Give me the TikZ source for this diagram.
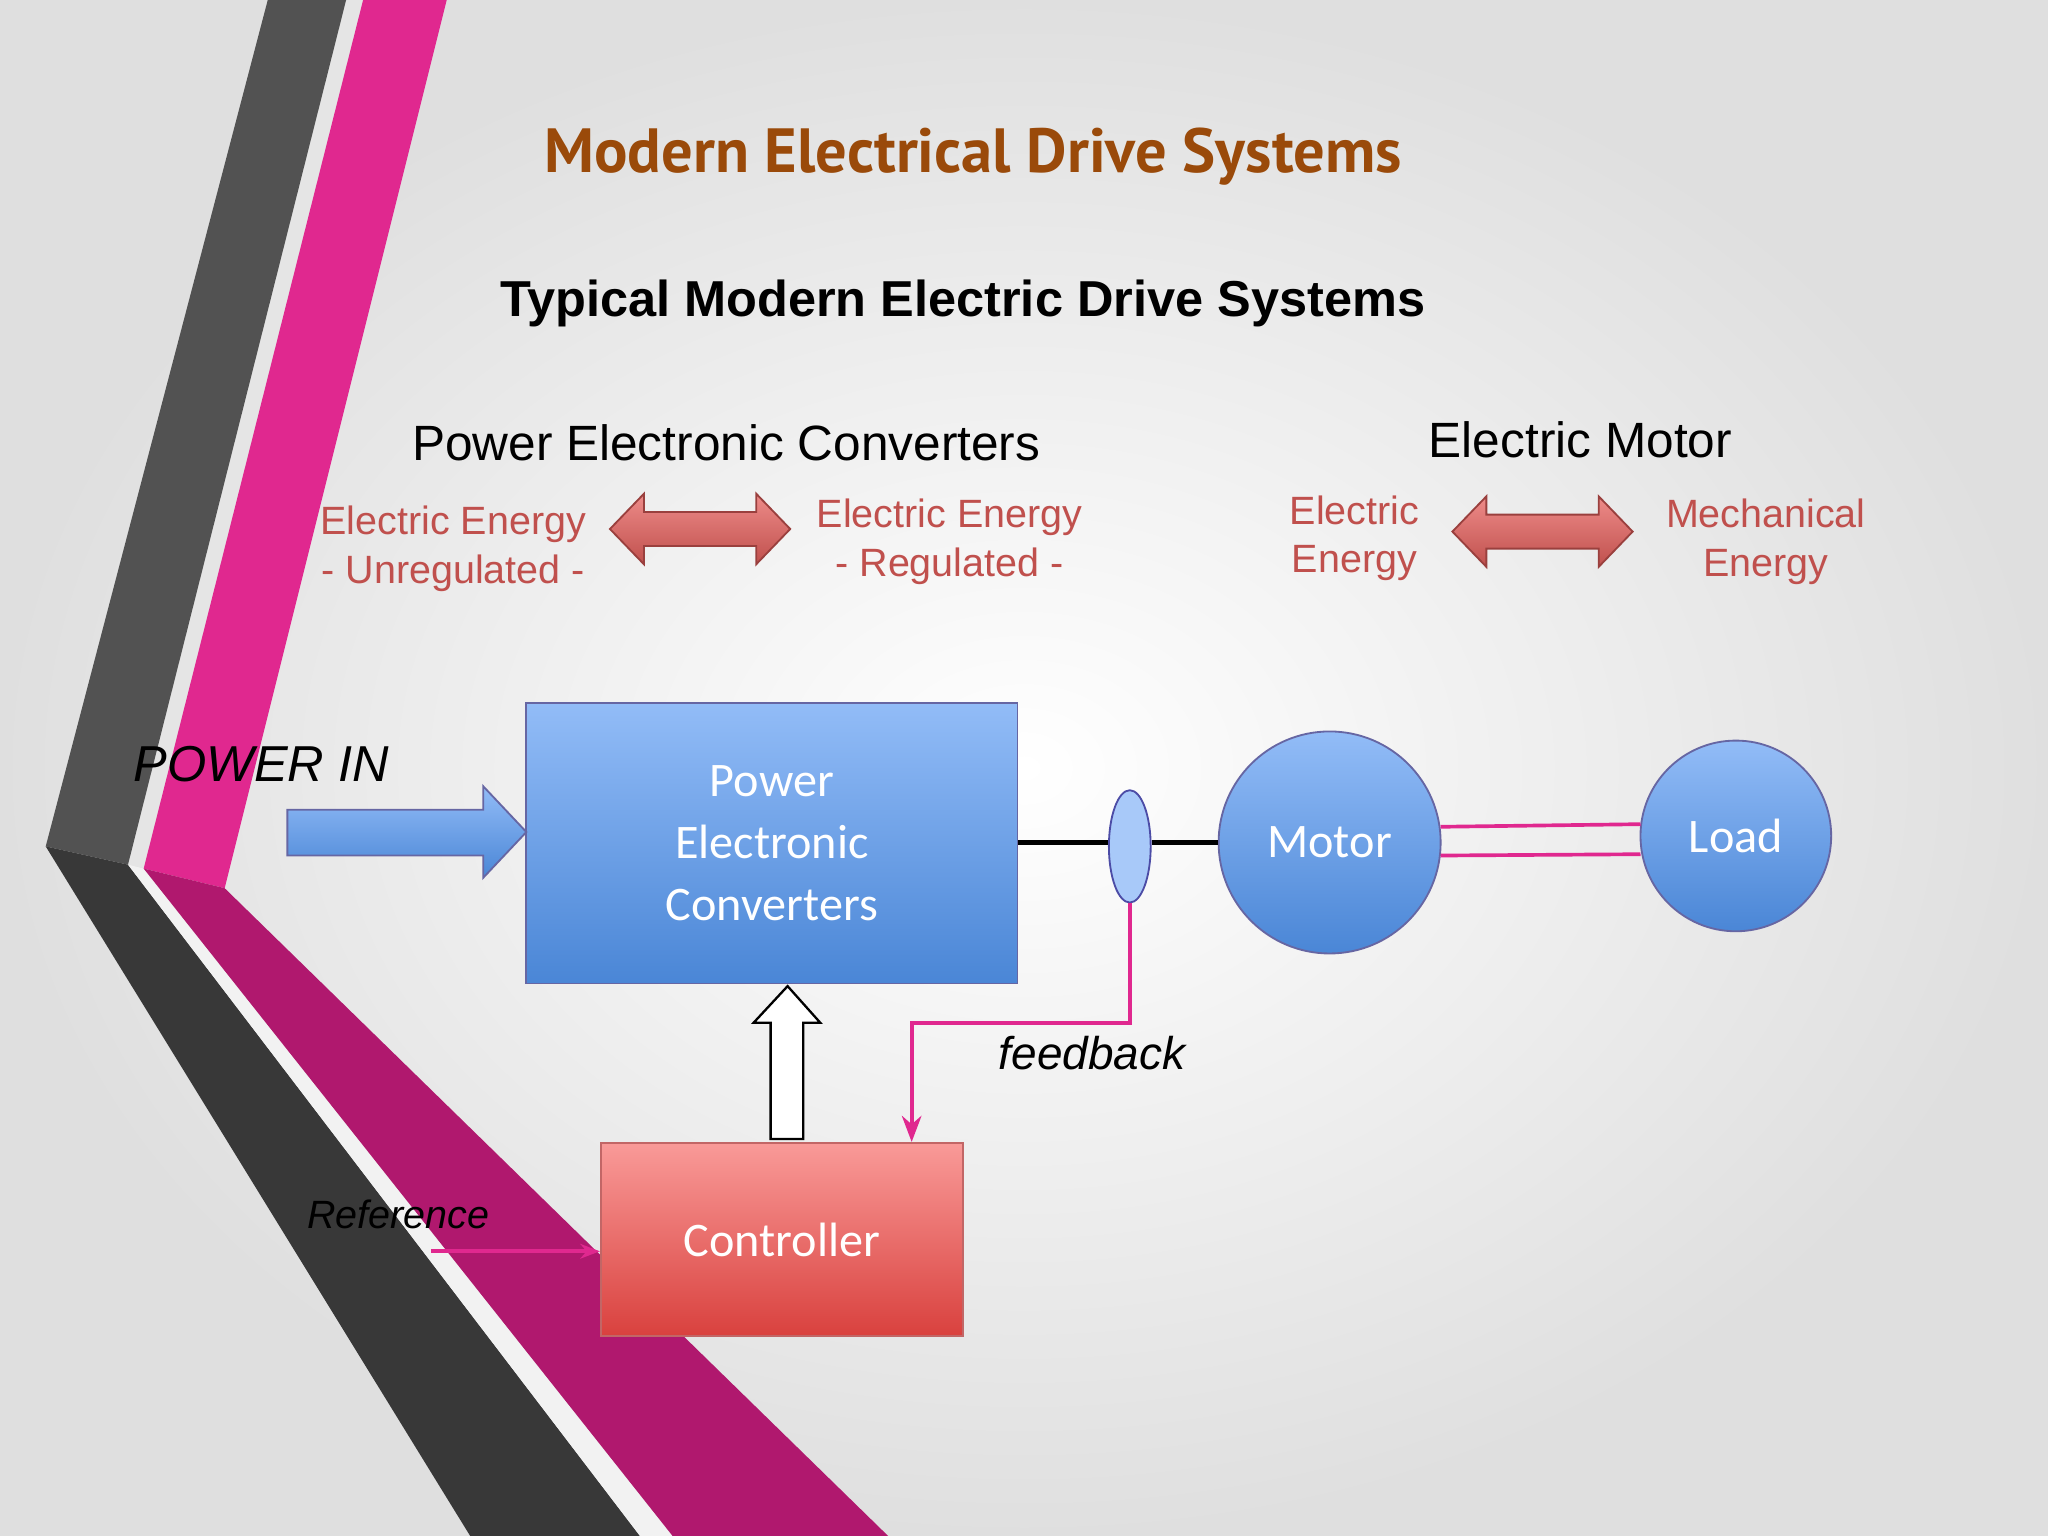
\documentclass[tikz,border=0pt]{standalone}
\usepackage{fontspec}
\setmainfont{Liberation Sans}
\newfontfamily\carl{Carlito}
\newfontfamily\ptsans{PT Sans}
\usetikzlibrary{shapes.arrows,shapes.geometric,arrows.meta}
\definecolor{redtxt}{HTML}{C0504D}
\definecolor{pinkline}{HTML}{E0288F}
\definecolor{darkpink}{HTML}{B0186E}
\definecolor{btop}{HTML}{92BCF7}
\definecolor{bbot}{HTML}{4A86D6}
\definecolor{rtop}{HTML}{F99A98}
\definecolor{rbot}{HTML}{D9413E}
\begin{document}
\begin{tikzpicture}[x=0.1mm,y=-0.1mm,
  redt/.style={text=redtxt,font=\fontsize{8.6}{10.6}\selectfont,align=center},
  head/.style={font=\fontsize{10.8}{13}\selectfont},
  dbl/.style={draw=redtxt!80!black,top color=rtop!80!redtxt,bottom color=redtxt},
  wt/.style={text=white,font=\carl\fontsize{10.5}{13.5}\selectfont,align=center},
  bluefill/.style={draw=blue!40!black!60,top color=btop,bottom color=bbot},
  pk/.style={draw=pinkline,line width=0.8pt}]
\useasboundingbox (0,0) rectangle (1568,1176);
\shade[inner color=white,outer color=gray!25] (0,0) rectangle (1568,1176);
% bands
\fill[gray!20!white] (262,0)--(280,0)--(112,665)--(98,662)--cycle;
\fill[black!68] (205,0)--(265,0)--(98,662)--(35,648)--cycle;
\fill[black!78] (35,648)--(98,662)--(490,1176)--(360,1176)--cycle;
\fill[white!90!gray] (98,662)--(110,665)--(515,1176)--(490,1176)--cycle;
\fill[pinkline] (278,0)--(342,0)--(172,680)--(110,665)--cycle;
\fill[darkpink] (110,665)--(172,680)--(680,1176)--(515,1176)--cycle;
% titles
\node (t1) at (745,120) {\ptsans\bfseries\fontsize{13.6}{16}\selectfont\color[HTML]{9A4A0A}Modern Electrical Drive Systems};
\node (t2) at (737,232) {\bfseries\fontsize{11}{13}\selectfont Typical Modern Electric Drive Systems};
\node[head] (h1) at (556,339) {Power Electronic Converters};
\node[head] (h2) at (1210,337) {Electric Motor};
\node[redt] (r1) at (347,420) {Electric Energy\\- Unregulated -};
\node[redt] (r2) at (727,415) {Electric Energy\\- Regulated -};
\node[redt] (r3) at (1037,412) {Electric\\Energy};
\node[redt] (r4) at (1352,415) {Mechanical\\Energy};
\path[dbl] (467,405)--(493,378)--(493,392)--(579,392)--(579,378)--(605,405)--(579,432)--(579,418)--(493,418)--(493,432)--cycle;
\path[dbl] (1112,407)--(1138,380)--(1138,394)--(1224,394)--(1224,380)--(1250,407)--(1224,434)--(1224,420)--(1138,420)--(1138,434)--cycle;
% blocks
\node[bluefill,minimum width=37.6mm,minimum height=21.5mm,wt] (pec) at (591,645.5) {Power\\Electronic\\Converters};
\path[bluefill] (220,620)--(370,620)--(370,602)--(403,637)--(370,672)--(370,655)--(220,655)--cycle;
\node[font=\itshape\fontsize{11}{13}\selectfont] (pint) at (200,585) {POWER IN};
\node[ellipse,draw=blue!50!black!70,fill=btop!80!white,minimum width=3.2mm,minimum height=8.6mm,inner sep=0pt] (el) at (865,648) {};
\node[circle,bluefill,minimum size=17mm,inner sep=0pt,wt] (mot) at (1018,645) {Motor};
\node[circle,bluefill,minimum size=14.6mm,inner sep=0pt,wt] (load) at (1329,640) {Load};
\draw[line width=1.2pt] (pec.east|-0,645) -- (el.west|-0,645);
\draw[line width=1.2pt] (el.east|-0,645) -- (mot.west|-0,645);
\draw[pk] (1103,633)--(1256,631);
\draw[pk] (1103,655)--(1256,654);
\node[draw=red!60!black!60,top color=rtop,bottom color=rbot,minimum width=27.7mm,minimum height=14.8mm,wt] (ctl) at (598.5,949) {Controller};
\draw[pk,-{Stealth[length=2mm]}] (el.south) -- (865,783) -- (698,783) -- (ctl.north-|698,0);
\node[font=\itshape\fontsize{10}{12}\selectfont] (fb) at (836,806) {feedback};
\node[font=\itshape\fontsize{8.6}{10}\selectfont] (ref) at (305,930) {Reference};
\coordinate (rs) at (330,958);
\draw[pk,-{Stealth[length=1.5mm]}] (rs) -- (ctl.west|-0,958);
\draw[line width=0.5pt,fill=white] (590,872)--(590,783)--(577,783)--(603,755)--(628,783)--(615,783)--(615,872)--cycle;
\end{tikzpicture}
\end{document}
